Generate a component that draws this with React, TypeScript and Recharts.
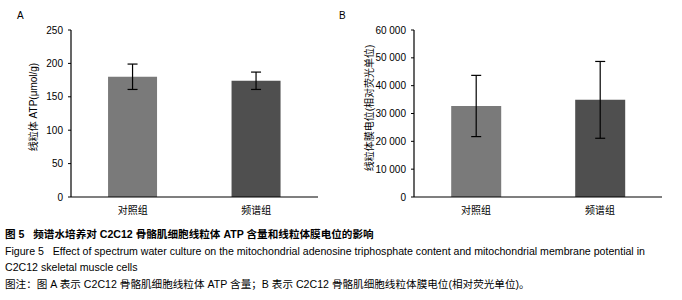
import { Bar, BarChart, Cell, ErrorBar, XAxis, YAxis } from 'recharts'

const groups = ['对照组', '频谱组']
const barColors = ['#7a7a7a', '#4f4f4f']

const atpValues = [180, 174]
const atpErrors = [19, 13]
const atpTicks = [0, 50, 100, 150, 200, 250]

const potentialValues = [32700, 34900]
const potentialErrors = [11000, 13800]
const potentialTicks = [0, 10000, 20000, 30000, 40000, 50000, 60000]

const FONT = '"Liberation Sans", Arial, "Noto Sans CJK SC", sans-serif'

const atpData = groups.map((name, i) => ({ name, value: atpValues[i], err: atpErrors[i] }))
const potentialData = groups.map((name, i) => ({
  name,
  value: potentialValues[i],
  err: potentialErrors[i],
}))

const spaced = (v: number) => String(v).replace(/\B(?=(\d{3})+(?!\d))/g, ' ')

function Panel({
  data,
  ticks,
  yWidth,
  right,
  format,
}: {
  data: { name: string; value: number; err: number }[]
  ticks: number[]
  yWidth: number
  right: number
  format?: (v: number) => string
}) {
  const tickStyle = { fontSize: 10, fill: '#000', fontFamily: FONT }
  return (
    <BarChart
      width={341}
      height={215}
      data={data}
      margin={{ top: 30, right, left: 0, bottom: 0 }}
      barCategoryGap="30%"
    >
      <XAxis
        dataKey="name"
        height={18}
        tickLine={false}
        axisLine={{ stroke: '#000', strokeWidth: 1.2 }}
        tick={tickStyle}
        tickMargin={4}
      />
      <YAxis
        width={yWidth}
        domain={[ticks[0], ticks[ticks.length - 1]]}
        ticks={ticks}
        interval={0}
        tickSize={3}
        tickMargin={5}
        tickLine={{ stroke: '#000' }}
        axisLine={{ stroke: '#000', strokeWidth: 1.2 }}
        tick={tickStyle}
        tickFormatter={format}
      />
      <Bar dataKey="value" isAnimationActive={false}>
        {data.map((d, i) => (
          <Cell key={d.name} fill={barColors[i]} />
        ))}
        <ErrorBar dataKey="err" width={5} stroke="#000" strokeWidth={1.2} />
      </Bar>
    </BarChart>
  )
}

const sideLabel = (text: string, x: number, y: number) => (
  <div
    style={{
      position: 'absolute',
      left: x,
      top: y,
      transform: 'translate(-50%, -50%) rotate(-90deg)',
      whiteSpace: 'nowrap',
      fontSize: 10,
    }}
  >
    {text}
  </div>
)

export default function App() {
  return (
    <div
      style={{
        position: 'absolute',
        left: 0,
        top: 0,
        width: 682,
        height: 300,
        background: '#fff',
        fontFamily: FONT,
        color: '#000',
        overflow: 'hidden',
      }}
    >
      <div style={{ position: 'absolute', left: 0, top: 0 }}>
        <Panel data={atpData} ticks={atpTicks} yWidth={71} right={23} />
      </div>
      <div style={{ position: 'absolute', left: 341, top: 0 }}>
        <Panel
          data={potentialData}
          ticks={potentialTicks}
          yWidth={73}
          right={20}
          format={spaced}
        />
      </div>
      <div style={{ position: 'absolute', left: 17, top: 10, fontSize: 10 }}>A</div>
      <div style={{ position: 'absolute', left: 339, top: 10, fontSize: 10 }}>B</div>
      {sideLabel('线粒体 ATP(μmol/g)', 32, 107)}
      {sideLabel('线粒体膜电位(相对荧光单位)', 368, 108)}
      <div
        style={{
          position: 'absolute',
          left: 5,
          top: 226,
          fontSize: 10.6,
          lineHeight: '16.5px',
          whiteSpace: 'nowrap',
        }}
      >
        <div style={{ fontWeight: 'bold' }}>
          图 5&nbsp;&nbsp;&nbsp;频谱水培养对 C2C12 骨骼肌细胞线粒体 ATP 含量和线粒体膜电位的影响
        </div>
        <div>
          Figure 5&nbsp;&nbsp;&nbsp;Effect of spectrum water culture on the mitochondrial adenosine
          triphosphate content and mitochondrial membrane potential in
        </div>
        <div>C2C12 skeletal muscle cells</div>
        <div>图注：图 A 表示 C2C12 骨骼肌细胞线粒体 ATP 含量；B 表示 C2C12 骨骼肌细胞线粒体膜电位(相对荧光单位)。</div>
      </div>
    </div>
  )
}
